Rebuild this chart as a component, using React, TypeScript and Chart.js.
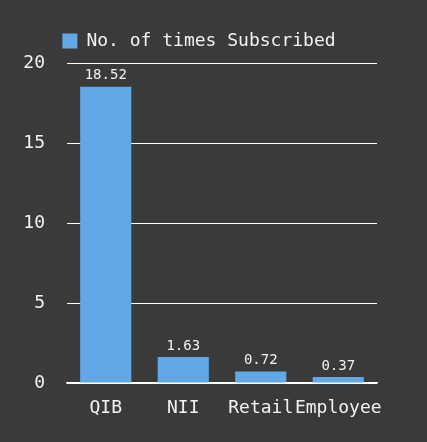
import React, { useEffect, useRef } from "react";
import { Chart, registerables } from "chart.js";

Chart.register(...registerables);

const categories = ["QIB", "NII", "Retail", "Employee"];
const subscribed = [18.52, 1.63, 0.72, 0.37];
const seriesLabel = "No. of times Subscribed";

const MONO = "'DejaVu Sans Mono', monospace";
const BAR = "rgb(98,168,230)";

// prints the value above every bar
const valueLabels = {
  id: "valueLabels",
  afterDatasetsDraw(chart: any) {
    const ctx = chart.ctx;
    const meta = chart.getDatasetMeta(0);
    ctx.save();
    ctx.font = "14px " + MONO;
    ctx.fillStyle = "#f2f2f2";
    ctx.textAlign = "center";
    ctx.textBaseline = "bottom";
    meta.data.forEach((bar: any, i: number) => {
      ctx.fillText(subscribed[i].toFixed(2), bar.x, bar.y - 4);
    });
    ctx.restore();
  },
};

// a little more room under the legend
const legendGap = {
  id: "legendGap",
  beforeInit(chart: any) {
    const fit = chart.legend.fit;
    chart.legend.fit = function () {
      fit.bind(chart.legend)();
      this.height += 3;
    };
  },
};

export default function App() {
  const canvasRef = useRef<HTMLCanvasElement>(null);

  useEffect(() => {
    let chart: Chart | null = null;
    if (canvasRef.current) {
      // @ts-ignore
      chart = new Chart(canvasRef.current, {
        type: "bar",
        data: {
          labels: categories,
          datasets: [
            {
              label: seriesLabel,
              data: subscribed,
              backgroundColor: BAR,
              categoryPercentage: 1.0,
              barPercentage: 0.66,
            },
          ],
        },
        plugins: [valueLabels, legendGap],
        options: {
          animation: false,
          responsive: true,
          maintainAspectRatio: false,
          layout: { padding: { top: 22, left: 21, right: 50, bottom: 14 } },
          plugins: {
            legend: {
              labels: {
                color: "#f2f2f2",
                font: { family: MONO, size: 18 },
                boxWidth: 15,
                boxHeight: 15,
              },
            },
            tooltip: { enabled: false },
          },
          scales: {
            x: {
              grid: { display: false },
              border: { color: "#ffffff", width: 1.5 },
              ticks: {
                color: "#f2f2f2",
                font: { family: MONO, size: 18 },
                padding: 7,
                maxRotation: 0,
                autoSkip: false,
              },
              afterFit(scale: any) {
                scale.height = 45;
              },
            },
            y: {
              min: 0,
              max: 20,
              border: { display: false },
              grid: { color: "#ffffff", lineWidth: 1, drawTicks: false },
              ticks: {
                stepSize: 5,
                color: "#f2f2f2",
                font: { family: MONO, size: 18 },
                padding: 22,
              },
              afterFit(scale: any) {
                scale.width = 46;
              },
            },
          },
        },
      });
    }
    return () => {
      if (chart) chart.destroy();
    };
  }, []);

  return (
    <div
      style={{
        position: "fixed",
        left: 0,
        top: 0,
        width: 427,
        height: 442,
        background: "#3a3a3a",
      }}
    >
      <canvas ref={canvasRef} />
    </div>
  );
}
